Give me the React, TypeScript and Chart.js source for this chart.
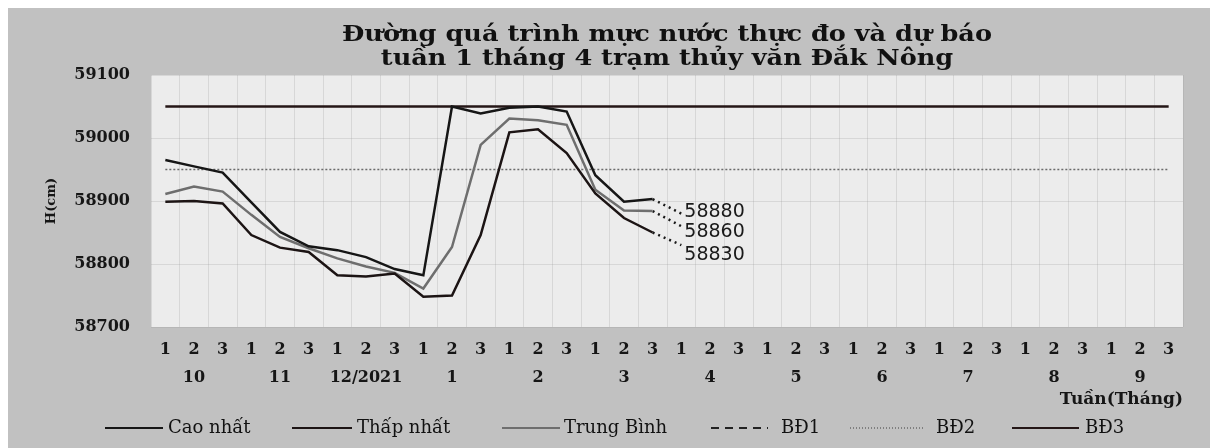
import React, { useEffect, useRef } from 'react';
import { Chart, registerables } from 'chart.js';

Chart.register(...registerables);

// ---- Data ----
const MONTHS = ['10', '11', '12/2021', '1', '2', '3', '4', '5', '6', '7', '8', '9'];
const DEKADS = ['1', '2', '3'];

const CAO_NHAT = [58965, 58955, 58945, 58898, 58851, 58828, 58822, 58811, 58792, 58782, 59050, 59039, 59048, 59050, 59042, 58941, 58899, 58903];
const THAP_NHAT = [58899, 58900, 58896, 58846, 58826, 58819, 58782, 58780, 58785, 58748, 58750, 58846, 59009, 59014, 58976, 58912, 58873, 58850];
const TRUNG_BINH = [58911, 58923, 58915, 58878, 58843, 58825, 58809, 58796, 58786, 58761, 58827, 58989, 59031, 59028, 59021, 58918, 58885, 58884];

// forecast for next dekad (Cao nhất, Trung Bình, Thấp nhất)
const FORECAST = [58880, 58860, 58830];
const FORECAST_LABELS = ['58880', '58860', '58830'];

const BD2_LEVEL = 58950;
const BD3_LEVEL = 59050;

const Y_MIN = 58700;
const Y_MAX = 59100;
const Y_STEP = 100;

const TITLE_LINES = ['Đường quá trình mực nước thực đo và dự báo', 'tuần 1 tháng 4 trạm thủy văn Đắk Nông'];
const SERIES_NAMES = ['Cao nhất', 'Thấp nhất', 'Trung Bình', 'BĐ1', 'BĐ2', 'BĐ3'];

// ---- Derived tables ----
const CATEGORIES: string[] = MONTHS.flatMap((m) => DEKADS.map((d) => `${d}/${m}`));
const N = CATEGORIES.length;
const pad = (arr: number[]) => [...arr, ...Array(N - arr.length).fill(null)];
const flat = (v: number | null) => Array(N).fill(v);
const forecastSeries = (actual: number[], f: number) => {
  const out: (number | null)[] = Array(N).fill(null);
  out[actual.length - 1] = actual[actual.length - 1];
  out[actual.length] = f;
  return out;
};

const SERIF = '"DejaVu Serif", serif';

// legend layout (canvas px): [lineStart, lineEnd, textStart]
const LEGEND_POS = [
  [97, 155, 160],
  [284, 344, 349],
  [494, 552, 556],
  [703, 760, 773],
  [842, 916, 928],
  [1004, 1071, 1077],
];
const LEGEND_Y = 420;
const LABEL_DY = [-2, 6, 10];
const TITLE_WIDTH = 650;

const bgPlugin = {
  id: 'bgPlugin',
  beforeDraw(chart: any) {
    const { ctx, chartArea, width, height } = chart;
    ctx.save();
    ctx.fillStyle = '#c1c1c1';
    ctx.fillRect(0, 0, width, height);
    ctx.fillStyle = '#ececec';
    ctx.fillRect(chartArea.left, chartArea.top, chartArea.right - chartArea.left, chartArea.bottom - chartArea.top);
    ctx.restore();
  },
};

const titlePlugin = {
  id: 'titlePlugin',
  afterDraw(chart: any) {
    const { ctx, chartArea } = chart;
    const cx = (chartArea.left + chartArea.right) / 2;
    ctx.save();
    ctx.fillStyle = '#111';
    ctx.font = `bold 23px ${SERIF}`;
    ctx.textAlign = 'center';
    ctx.textBaseline = 'alphabetic';
    const w = ctx.measureText(TITLE_LINES[0]).width;
    const sx = TITLE_WIDTH / w;
    ctx.translate(cx, 0);
    ctx.scale(sx, 1);
    ctx.fillText(TITLE_LINES[0], 0, 33);
    ctx.fillText(TITLE_LINES[1], 0, 57);
    ctx.restore();
  },
};

const legendPlugin = {
  id: 'customLegend',
  afterDraw(chart: any) {
    const { ctx } = chart;
    ctx.save();
    ctx.font = `18px ${SERIF}`;
    ctx.textBaseline = 'middle';
    ctx.textAlign = 'left';
    SERIES_NAMES.forEach((name, i) => {
      const ds = chart.data.datasets[i];
      const [x0, x1, xt] = LEGEND_POS[i];
      ctx.beginPath();
      ctx.strokeStyle = ds.borderColor;
      ctx.lineWidth = Math.min(ds.borderWidth, 2);
      ctx.setLineDash(ds.legendDash || ds.borderDash || []);
      ctx.moveTo(x0, LEGEND_Y);
      ctx.lineTo(x1, LEGEND_Y);
      ctx.stroke();
      ctx.setLineDash([]);
      ctx.fillStyle = '#111';
      ctx.fillText(name, xt, LEGEND_Y);
    });
    ctx.restore();
  },
};

const forecastLabelPlugin = {
  id: 'forecastLabels',
  afterDatasetsDraw(chart: any) {
    const { ctx } = chart;
    ctx.save();
    ctx.font = '19px "DejaVu Sans", sans-serif';
    ctx.fillStyle = '#1a1a1a';
    ctx.textBaseline = 'middle';
    ctx.textAlign = 'left';
    FORECAST_LABELS.forEach((lab, k) => {
      const meta = chart.getDatasetMeta(6 + k);
      const pt = meta.data[CAO_NHAT.length];
      if (!pt) return;
      ctx.fillText(lab, pt.x + 3, pt.y + LABEL_DY[k]);
    });
    ctx.restore();
  },
};

export default function App() {
  const ref = useRef<HTMLCanvasElement | null>(null);

  useEffect(() => {
    if (!ref.current) return;
    const base = { pointRadius: 0, pointHoverRadius: 0, tension: 0, fill: false, spanGaps: false };
    const chart = new Chart(ref.current, {
      type: 'line',
      data: {
        labels: CATEGORIES,
        datasets: [
          { ...base, label: SERIES_NAMES[0], data: pad(CAO_NHAT), borderColor: '#161616', borderWidth: 2.5 },
          { ...base, label: SERIES_NAMES[1], data: pad(THAP_NHAT), borderColor: '#1c1414', borderWidth: 2.5 },
          { ...base, label: SERIES_NAMES[2], data: pad(TRUNG_BINH), borderColor: '#6e6e6e', borderWidth: 2.5 },
          { ...base, label: SERIES_NAMES[3], data: flat(null), borderColor: '#222', borderWidth: 2, borderDash: [8, 6] },
          { ...base, label: SERIES_NAMES[4], data: flat(BD2_LEVEL), borderColor: '#6a6a6a', borderWidth: 1.5, borderDash: [2, 2], legendDash: [1, 2] },
          { ...base, label: SERIES_NAMES[5], data: flat(BD3_LEVEL), borderColor: '#241616', borderWidth: 2.5 },
          { ...base, label: 'DB Cao nhất', data: forecastSeries(CAO_NHAT, FORECAST[0]), borderColor: '#1a1a1a', borderWidth: 2.5, borderDash: [2, 4] },
          { ...base, label: 'DB Trung Bình', data: forecastSeries(TRUNG_BINH, FORECAST[1]), borderColor: '#1a1a1a', borderWidth: 2.5, borderDash: [2, 4] },
          { ...base, label: 'DB Thấp nhất', data: forecastSeries(THAP_NHAT, FORECAST[2]), borderColor: '#1a1a1a', borderWidth: 2.5, borderDash: [2, 4] },
        ] as any,
      },
      options: {
        animation: false,
        responsive: true,
        maintainAspectRatio: false,
        events: [],
        layout: { padding: { top: 67, right: 27, left: 0, bottom: 0 } },
        plugins: {
          legend: { display: false },
          title: { display: false },
          tooltip: { enabled: false },
        },
        scales: {
          x: {
            type: 'category',
            offset: true,
            grid: { display: true, drawTicks: false, color: 'rgba(150,150,150,0.25)', offset: true },
            border: { display: false },
            ticks: {
              autoSkip: false,
              maxRotation: 0,
              minRotation: 0,
              padding: 8,
              color: '#161616',
              font: { family: SERIF, size: 16, weight: 'bold', lineHeight: 1.8 },
              callback: (_v: any, i: number) => [DEKADS[i % 3], i % 3 === 1 ? MONTHS[Math.floor(i / 3)] : ''],
            },
            title: {
              display: true,
              text: 'Tuần(Tháng)',
              align: 'end',
              color: '#161616',
              font: { family: SERIF, size: 17, weight: 'bold' },
              padding: { top: 0, bottom: 38 },
            },
            afterFit: (s: any) => { s.height = 121; },
          },
          y: {
            min: Y_MIN,
            max: Y_MAX,
            grid: { display: true, drawTicks: false, color: 'rgba(150,150,150,0.25)' },
            border: { display: false },
            ticks: {
              stepSize: Y_STEP,
              padding: 21,
              color: '#161616',
              font: { family: SERIF, size: 16, weight: 'bold' },
              callback: (v: any) => String(v),
            },
            title: {
              display: true,
              text: 'H(cm)',
              color: '#161616',
              font: { family: SERIF, size: 13, weight: 'bold' },
              padding: { top: 36, bottom: 0 },
            },
            afterFit: (s: any) => { s.width = 143; },
          },
        },
      } as any,
      plugins: [bgPlugin, titlePlugin, legendPlugin, forecastLabelPlugin],
    });
    return () => chart.destroy();
  }, []);

  return (
    <div style={{ position: 'fixed', left: 8, top: 8, width: 1202, height: 440 }}>
      <canvas ref={ref} />
    </div>
  );
}
